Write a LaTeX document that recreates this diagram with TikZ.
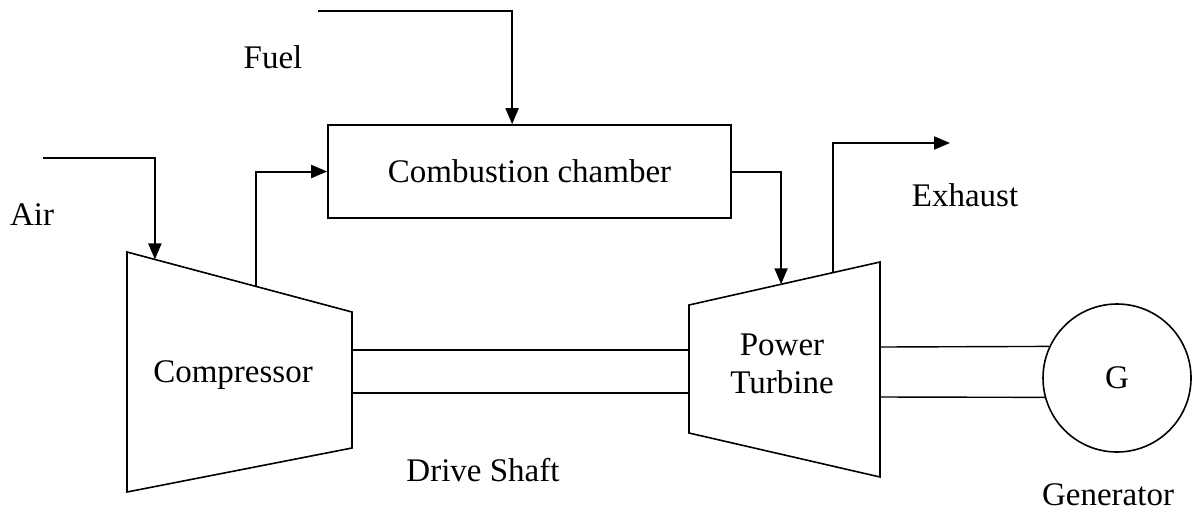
\documentclass[tikz,border=0pt]{standalone}
\usepackage{fontspec}
\setmainfont{Liberation Serif}
\usetikzlibrary{arrows.meta, calc}

\begin{document}
\begin{tikzpicture}[x=0.5pt, y=-0.5pt, font=\fontsize{16.5}{18}\selectfont,
        part/.style={draw, line width=0.8pt},
        flow/.style={draw, line width=1pt, -{Triangle[length=8pt, width=6.5pt]}},
        shaft/.style={draw, line width=0.7pt},
        tag/.style={inner sep=0pt, align=center}
    ]
        \useasboundingbox (0,0) rectangle (1192,515);
        % compressor and turbine outlines
        \coordinate (cTL) at (127,252);
        \coordinate (cTR) at (352,312);
        \coordinate (cBR) at (352,448);
        \coordinate (cBL) at (127,492);
        \coordinate (tTL) at (689,305);
        \coordinate (tTR) at (880,262);
        \coordinate (tBR) at (880,477);
        \coordinate (tBL) at (689,433);
        \draw[part] (cTL) -- (cTR) -- (cBR) -- (cBL) -- cycle;
        \draw[part] (tTL) -- (tTR) -- (tBR) -- (tBL) -- cycle;
        \node[part, minimum width=201.5pt, minimum height=46.5pt] (chamber) at (529.5,171.5) {Combustion chamber};
        \node[part, circle, minimum size=74pt, inner sep=0pt] (gen) at (1117,378) {G};

        % shafts
        \coordinate (sA) at (352,350);
        \coordinate (sB) at (352,393);
        \coordinate (sC) at (880,347);
        \coordinate (sD) at (880,397);
        \draw[shaft] (sA) -- (sA -| tTL);
        \draw[shaft] (sB) -- (sB -| tTL);
        \draw[shaft] (sC) -- (gen.155);
        \draw[shaft] (sD) -- (gen.195);

        % gas flow
        \coordinate (airin) at (43,158);
        \coordinate (fuelin) at (318,11);
        \coordinate (exhend) at (950,143);
        \coordinate (cAir) at ($(cTL)!0.124!(cTR)$);
        \coordinate (cOut) at ($(cTL)!0.573!(cTR)$);
        \coordinate (tIn) at ($(tTL)!0.482!(tTR)$);
        \coordinate (tOut) at ($(tTL)!0.754!(tTR)$);
        \coordinate (fuelend) at ($(chamber.north west)!0.457!(chamber.north east)$);
        \draw[flow] (airin) -| (cAir);
        \draw[flow] (cOut) |- (chamber.west);
        \draw[flow] (fuelin) -| (fuelend);
        \draw[flow] (chamber.east) -| (tIn);
        \draw[flow] (tOut) |- (exhend);

        % labels
        \node[tag] (fuel) at (273,57) {Fuel};
        \node[tag] (air) at (32,215) {Air};
        \node[tag] (exhaust) at (965,195) {Exhaust};
        \node[tag] (comp) at (233,375) {Compressor};
        \node[tag] (turb) at (782,364) {Power\\[1pt] Turbine};
        \node[tag] (drive) at (483,470) {Drive Shaft};
        \node[tag] (gentag) at (1108,495) {Generator};
    \end{tikzpicture}
\end{document}
